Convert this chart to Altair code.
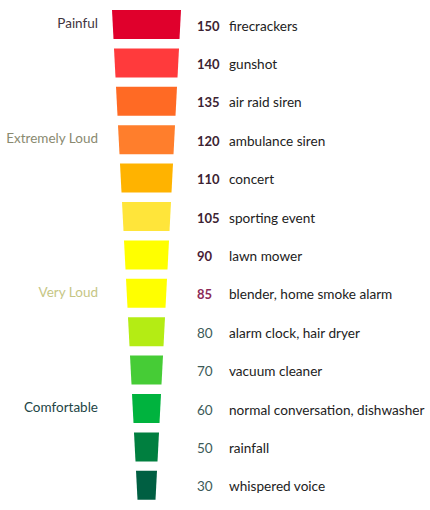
import altair as alt
import pandas as pd

levels = [150, 140, 135, 120, 110, 105, 90, 85, 80, 70, 60, 50, 30]
sources = ["firecrackers", "gunshot", "air raid siren", "ambulance siren", "concert",
           "sporting event", "lawn mower", "blender, home smoke alarm",
           "alarm clock, hair dryer", "vacuum cleaner",
           "normal conversation, dishwasher", "rainfall", "whispered voice"]
bar_colors = ["#e0002c", "#ff3a3c", "#ff6a24", "#ff7e2c", "#ffb300", "#ffe53a",
              "#ffff00", "#ffff00", "#b4ec14", "#46cc36", "#00b33e", "#007f3f", "#005f42"]
num_colors = ["#3c2332", "#3c2332", "#3c2332", "#3c2332", "#3c2332", "#3c2332",
              "#4a1c36", "#8c2a58", "#3c5a57", "#3c5a57", "#3c5a57", "#3c5a57", "#3c5a57"]
num_weights = ["bold"] * 8 + ["normal"] * 5

categories = ["Painful", "Extremely Loud", "Very Loud", "Comfortable"]
category_levels = [150, 120, 85, 60]
category_colors = ["#3f3440", "#8a8a70", "#c6c684", "#1d4545"]

rows = []
for i, (lv, src, bc, nc, nw) in enumerate(zip(levels, sources, bar_colors, num_colors, num_weights)):
    for edge in (0, 1):
        rows.append({"i": i, "level": lv, "source": src, "bar": bc, "num": nc,
                     "weight": nw, "edge": edge})
df = pd.DataFrame(rows)

lab = pd.DataFrame({"i": list(range(len(levels))), "level": levels, "source": sources,
                    "num": num_colors, "weight": num_weights})
cat = pd.DataFrame({"name": categories, "i": [levels.index(v) for v in category_levels],
                    "color": category_colors})

X = alt.Scale(domain=[0, 430])
Y = alt.Scale(domain=[0, 510], reverse=True)

bars = alt.Chart(df).transform_calculate(
    y="10 + 38.4*datum.i + 29*datum.edge",
    half="(69 - 4*datum.i - 3*datum.edge)/2",
).transform_calculate(
    xl="146.5 - datum.half", xr="146.5 + datum.half"
).mark_area(orient="horizontal").encode(
    y=alt.Y("y:Q", scale=Y, axis=None),
    x=alt.X("xl:Q", scale=X, axis=None),
    x2="xr:Q",
    detail="i:N",
    color=alt.Color("bar:N", scale=None),
)

base_lab = alt.Chart(lab).transform_calculate(ty="10 + 38.4*datum.i + 16.5")

nums_bold = base_lab.transform_filter("datum.weight == 'bold'").mark_text(
    align="left", baseline="middle", font="Lato", fontSize=13, fontWeight="bold"
).encode(
    x=alt.value(197), y=alt.Y("ty:Q", scale=Y, axis=None),
    text="level:N", color=alt.Color("num:N", scale=None),
)
nums_norm = base_lab.transform_filter("datum.weight == 'normal'").mark_text(
    align="left", baseline="middle", font="Lato", fontSize=13.5
).encode(
    x=alt.value(197), y=alt.Y("ty:Q", scale=Y, axis=None),
    text="level:N", color=alt.Color("num:N", scale=None),
)
names = base_lab.mark_text(
    align="left", baseline="middle", font="Lato", fontSize=13.6, color="#222222"
).encode(
    x=alt.value(229), y=alt.Y("ty:Q", scale=Y, axis=None), text="source:N",
)
cats = alt.Chart(cat).transform_calculate(ty="10 + 38.4*datum.i + 14").mark_text(
    align="right", baseline="middle", font="Lato", fontSize=13.5, fontWeight=400
).encode(
    x=alt.value(98), y=alt.Y("ty:Q", scale=Y, axis=None), text="name:N",
    color=alt.Color("color:N", scale=None),
)

chart = alt.layer(bars, nums_bold, nums_norm, names, cats).properties(
    width=430, height=510, padding=0, autosize=alt.AutoSizeParams(type="none")
).configure_view(stroke=None)

chart.save("out.html", embed_options={"renderer": "svg", "actions": False})
